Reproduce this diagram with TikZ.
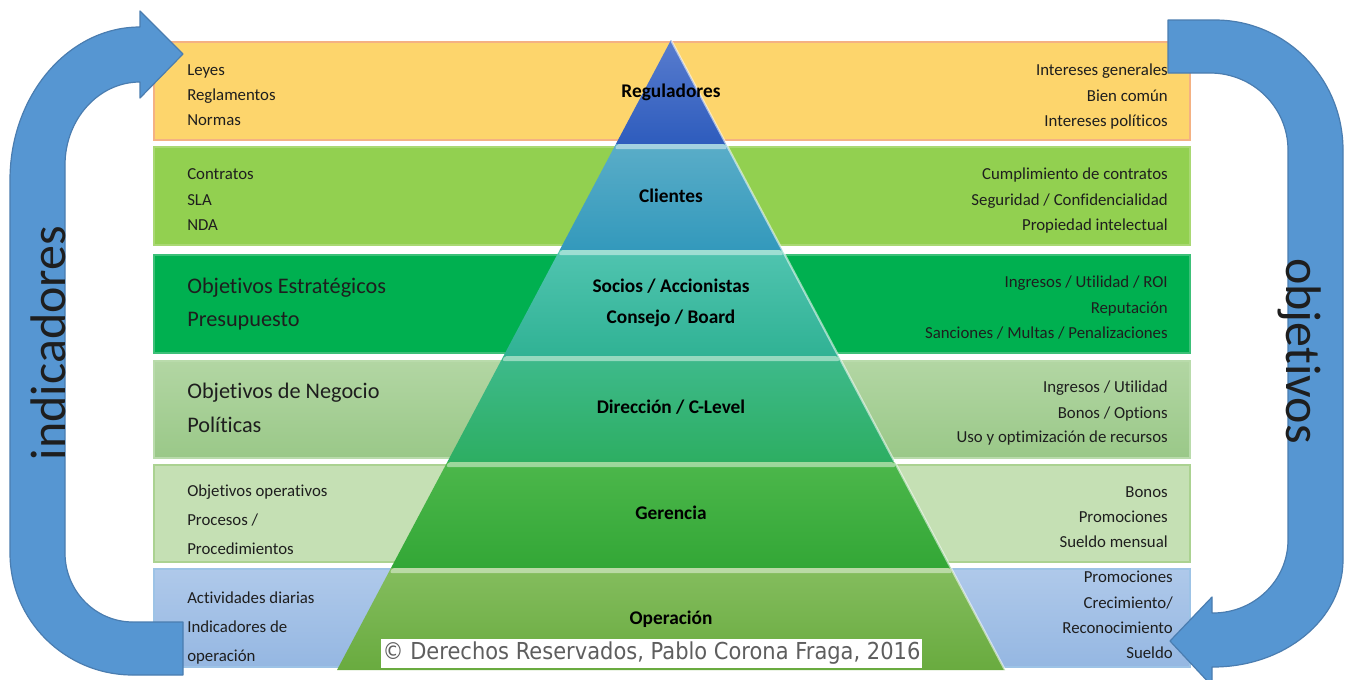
\documentclass[tikz,border=0pt]{standalone}
\usepackage{fontspec}
\setmainfont{Carlito}[Ligatures=NoCommon]
\newfontfamily\cpfont{DejaVu Sans}[FakeStretch=0.9]
\definecolor{txt}{HTML}{1E1E1E}
\definecolor{yel}{HTML}{FDD56C}
\definecolor{yeledge}{HTML}{F4B183}
\definecolor{gA}{HTML}{92D050}
\definecolor{gAedge}{HTML}{A9D873}
\definecolor{gB}{HTML}{00B050}
\definecolor{gBedge}{HTML}{3CC078}
\definecolor{gCtop}{HTML}{B2D6A3}
\definecolor{gCbot}{HTML}{9AC888}
\definecolor{gCedge}{HTML}{B9DBAB}
\definecolor{gD}{HTML}{C5E0B4}
\definecolor{gDedge}{HTML}{ABD291}
\definecolor{bltop}{HTML}{AFC9EA}
\definecolor{blbot}{HTML}{95B7E2}
\definecolor{bledge}{HTML}{9DC3E6}
\definecolor{arrowblue}{HTML}{5696D2}
\definecolor{arrowedge}{HTML}{4A7DB0}
\definecolor{cpgray}{HTML}{5E5E5E}
\definecolor{pAt}{HTML}{587CCE}
\definecolor{pAb}{HTML}{2E5CBD}
\definecolor{pBt}{HTML}{5AADC8}
\definecolor{pBb}{HTML}{3399BC}
\definecolor{pCt}{HTML}{50C4B0}
\definecolor{pCb}{HTML}{30B294}
\definecolor{pDt}{HTML}{3EBA8C}
\definecolor{pDb}{HTML}{2DAE62}
\definecolor{pEt}{HTML}{4CB74B}
\definecolor{pEb}{HTML}{33A736}
\definecolor{pFt}{HTML}{84BD5E}
\definecolor{pFb}{HTML}{69AB3F}
\begin{document}
\begin{tikzpicture}[x=0.75pt,y=-0.75pt,
  lt/.style={anchor=base west, inner sep=0pt, text=txt, font=\fontsize{12.6}{14}\selectfont},
  rt/.style={anchor=base east, inner sep=0pt, text=txt, font=\fontsize{12.6}{14}\selectfont},
  bigt/.style={anchor=base west, inner sep=0pt, text=txt, font=\fontsize{16.7}{20}\selectfont},
  pl/.style={anchor=base, inner sep=0pt, text=black, font=\bfseries\fontsize{14.5}{17}\selectfont},
  arrowshape/.style={fill=arrowblue, draw=arrowedge, line width=0.9pt, line join=round},
  glow/.style={fill=white, fill opacity=0.45},
  edgeglow/.style={draw=white, draw opacity=0.55, line width=1.6pt},
  bandbox/.style={line width=0.8pt}
]
\useasboundingbox (0,0) rectangle (1349,679);
\fill[white] (0,0) rectangle (1349,679);

% ---------- bands ----------
\draw[bandbox, fill=yel, draw=yeledge] (154,42) rectangle (1190,140);
\draw[bandbox, fill=gA, draw=gAedge] (154,147) rectangle (1190,245);
\draw[bandbox, fill=gB, draw=gBedge] (154,255) rectangle (1190,353);
\draw[bandbox, top color=gCtop, bottom color=gCbot, draw=gCedge] (154,361) rectangle (1190,458);
\draw[bandbox, fill=gD, draw=gDedge] (154,465) rectangle (1190,562);
\draw[bandbox, top color=bltop, bottom color=blbot, draw=bledge] (154,569) rectangle (1190,667);

% ---------- pyramid ----------
\shade[top color=pAt, bottom color=pAb] (671,40) -- (726.1,144) -- (615.9,144) -- cycle;
\shade[top color=pBt, bottom color=pBb] (615.9,144) -- (726.1,144) -- (782.3,250) -- (559.7,250) -- cycle;
\shade[top color=pCt, bottom color=pCb] (559.7,250) -- (782.3,250) -- (838.5,356) -- (503.5,356) -- cycle;
\shade[top color=pDt, bottom color=pDb] (503.5,356) -- (838.5,356) -- (894.7,462) -- (447.3,462) -- cycle;
\shade[top color=pEt, bottom color=pEb] (447.3,462) -- (894.7,462) -- (951,568) -- (391,568) -- cycle;
\shade[top color=pFt, bottom color=pFb] (391,568) -- (951,568) -- (1005,670) -- (337,670) -- cycle;
% highlight strips at the top of each layer
\foreach \yy/\xl/\xr in {144/615.9/726.1, 250/559.7/782.3, 356/503.5/838.5, 462/447.3/894.7, 568/391/951}{
  \fill[glow, rounded corners=1.5pt] (\xl+1,\yy) -- (\xr-1,\yy) -- (\xr+1.2,\yy+5) -- (\xl-1.2,\yy+5) -- cycle;
}
\draw[edgeglow] (671.5,41) -- (1005,670);

% ---------- pyramid labels ----------
\node[pl] (reg) at (671,97) {Reguladores};
\node[pl] (cli) at (671,202) {Clientes};
\node[pl] (soc) at (671,292) {Socios / Accionistas};
\node[pl] (con) at (671,323) {Consejo / Board};
\node[pl] (dir) at (671,413) {Dirección / C-Level};
\node[pl] (ger) at (671,519) {Gerencia};
\node[pl] (ope) at (671,624) {Operación};

% ---------- left texts ----------
\node[lt] (l1a) at (187,75) {Leyes};
\node[lt] (l1b) at (187,100) {Reglamentos};
\node[lt] (l1c) at (187,125) {Normas};
\node[lt] (l2a) at (187,179) {Contratos};
\node[lt] (l2b) at (187,205) {SLA};
\node[lt] (l2c) at (187,230) {NDA};
\node[bigt] (l3a) at (187,293) {Objetivos Estratégicos};
\node[bigt] (l3b) at (187,326) {Presupuesto};
\node[bigt] (l4a) at (187,398) {Objetivos de Negocio};
\node[bigt] (l4b) at (187,432) {Políticas};
\node[lt] (l5a) at (187,496) {Objetivos operativos};
\node[lt] (l5b) at (187,525) {Procesos /};
\node[lt] (l5c) at (187,554) {Procedimientos};
\node[lt] (l6a) at (187,603) {Actividades diarias};
\node[lt] (l6b) at (187,632) {Indicadores de};
\node[lt] (l6c) at (187,661) {operación};

% ---------- right texts ----------
\node[rt] (r1a) at (1168,75) {Intereses generales};
\node[rt] (r1b) at (1168,101) {Bien común};
\node[rt] (r1c) at (1168,126) {Intereses políticos};
\node[rt] (r2a) at (1168,179) {Cumplimiento de contratos};
\node[rt] (r2b) at (1168,205) {Seguridad / Confidencialidad};
\node[rt] (r2c) at (1168,230) {Propiedad intelectual};
\node[rt] (r3a) at (1168,287) {Ingresos / Utilidad / ROI};
\node[rt] (r3b) at (1168,313) {Reputación};
\node[rt] (r3c) at (1168,338) {Sanciones / Multas / Penalizaciones};
\node[rt] (r4a) at (1168,392) {Ingresos / Utilidad};
\node[rt] (r4b) at (1168,418) {Bonos / Options};
\node[rt] (r4c) at (1168,442) {Uso y optimización de recursos};
\node[rt] (r5a) at (1168,497) {Bonos};
\node[rt] (r5b) at (1168,522) {Promociones};
\node[rt] (r5c) at (1168,547) {Sueldo mensual};
\node[rt] (r6a) at (1173,582) {Promociones};
\node[rt] (r6b) at (1173,608) {Crecimiento/};
\node[rt] (r6c) at (1173,633) {Reconocimiento};
\node[rt] (r6d) at (1173,658) {Sueldo};

% ---------- left U-turn arrow (indicadores) ----------
\draw[arrowshape]
  (183,622) -- (133,622)
  .. controls (95.4,622) and (65,591.1) .. (65,553)
  -- (65,165)
  .. controls (65,119.2) and (98.6,82) .. (140,82)
  -- (140,98) -- (183,54) -- (140,11) -- (140,27)
  .. controls (68.2,27) and (10,95.5) .. (10,180)
  -- (10,553)
  .. controls (10,620.4) and (65.1,675) .. (133,675)
  -- (183,675) -- cycle;
\node[rotate=90, inner sep=0pt, text=txt, font=\fontsize{37.5}{40}\selectfont] (ind) at (48,343) {indicadores};

% ---------- right U-turn arrow (objetivos) ----------
\draw[arrowshape]
  (1168,20) -- (1215,20)
  .. controls (1285.7,20) and (1343,78.2) .. (1343,150)
  -- (1343,560)
  .. controls (1343,619.1) and (1284.8,667) .. (1213,667)
  -- (1212,667) -- (1212,686) -- (1170,641) -- (1212,597) -- (1212,613) -- (1213,613)
  .. controls (1254.4,613) and (1288,580.3) .. (1288,540)
  -- (1288,150)
  .. controls (1288,107.5) and (1253.1,73) .. (1210,73)
  -- (1168,73) -- cycle;
\node[rotate=-90, inner sep=0pt, text=txt, font=\fontsize{37.5}{40}\selectfont] (obj) at (1300,351) {objetivos};

% ---------- copyright ----------
\node[fill=white, inner sep=0pt, minimum width=541*0.75pt, minimum height=29*0.75pt, text=cpgray,
      font=\cpfont\fontsize{17.5}{19}\selectfont] (copy) at (651.5,653.5) {© Derechos Reservados, Pablo Corona Fraga, 2016};
\end{tikzpicture}
\end{document}
